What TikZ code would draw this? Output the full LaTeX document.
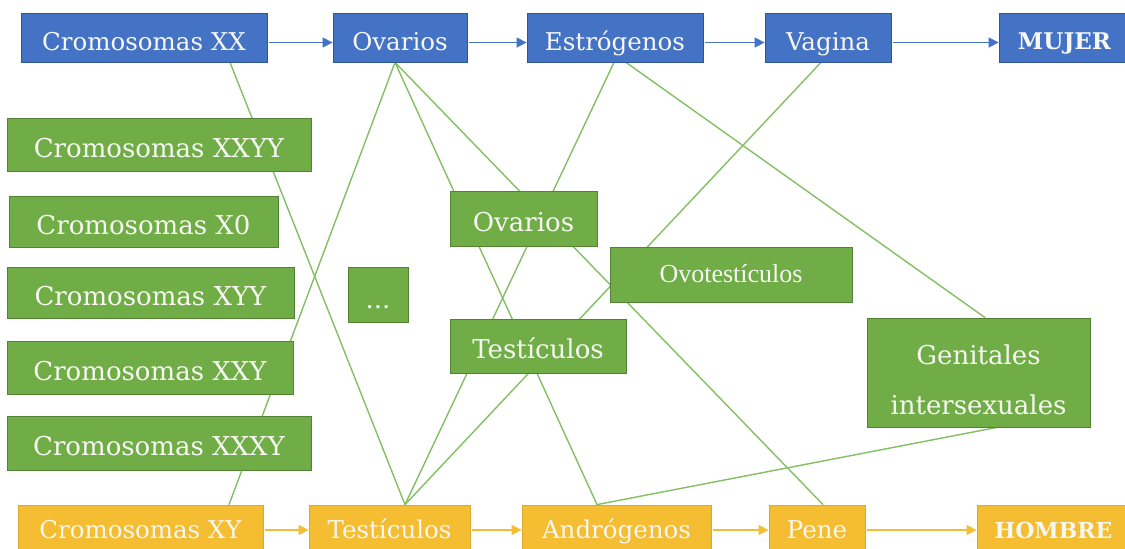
\documentclass[tikz,border=0pt]{standalone}
\usepackage{fontspec}
\setmainfont{DejaVu Serif}
\newfontfamily\timesf{Liberation Serif}
\usetikzlibrary{arrows.meta,backgrounds}
\definecolor{bluef}{HTML}{4472C4}
\definecolor{blued}{HTML}{2F5597}
\definecolor{greenf}{HTML}{70AD47}
\definecolor{greend}{HTML}{548235}
\definecolor{yellowf}{HTML}{F5BD31}
\definecolor{yellowd}{HTML}{DCA832}
\definecolor{linkg}{HTML}{84BF63}
\definecolor{txt}{HTML}{F7F7F2}
\begin{document}
\begin{tikzpicture}[x=1pt,y=-1pt,
  box/.style={draw, line width=0.8pt, rectangle, inner sep=0pt, text=txt, anchor=center},
  bbox/.style={box, fill=bluef, draw=blued, font=\fontsize{24.5}{29}\selectfont, text height=25.9pt, text depth=0pt},
  gbox/.style={box, fill=greenf, draw=greend, font=\fontsize{26}{31}\selectfont, text height=25pt, text depth=0pt},
  ybox/.style={box, fill=yellowf, draw=yellowd, font=\fontsize{24.5}{29}\selectfont, text height=17.9pt, text depth=0pt},
  sz/.style 2 args={minimum width=#1pt, minimum height=#2pt},
  link/.style={draw=linkg, line width=1.4pt},
  barrow/.style={draw=bluef, line width=1.5pt, -{Triangle[length=10pt,width=10pt]}, shorten <=2pt},
  yarrow/.style={draw=yellowf, line width=1.5pt, -{Triangle[length=10pt,width=10pt]}, shorten <=2pt}
]
\path[use as bounding box, clip] (0,0) rectangle (1125,549);
% top row
\node[bbox, sz={246}{49}] (xx) at (144,37.5) {Cromosomas XX};
\node[bbox, sz={134}{49}] (ovB) at (400,37.5) {Ovarios};
\node[bbox, sz={176}{49}] (est) at (615,37.5) {Estrógenos};
\node[bbox, sz={126}{49}] (vag) at (828,37.5) {Vagina};
\node[bbox, sz={131}{49}, font=\bfseries\fontsize{23}{27}\selectfont, text height=23.5pt] (muj) at (1064.5,37.5) {MUJER};
% left column
\node[gbox, sz={304}{53}] (xxyy) at (159,144.5) {Cromosomas XXYY};
\node[gbox, sz={269}{51}] (x0) at (143.5,221.5) {Cromosomas X0};
\node[gbox, sz={287}{51}] (xyy) at (150.5,292.5) {Cromosomas XYY};
\node[gbox, sz={286}{53}] (xxy) at (150,367.5) {Cromosomas XXY};
\node[gbox, sz={304}{54}] (xxxy) at (159,443) {Cromosomas XXXY};
\node[gbox, sz={60}{55}, text height=28pt] (dots) at (378,294.5) {...};
% middle
\node[gbox, sz={147}{55}] (ovG) at (523.5,218.5) {Ovarios};
\node[gbox, sz={242}{55}, font=\timesf\fontsize{26}{31}\selectfont, text height=15.2pt] (ovo) at (731,274.5) {Ovotestículos};
\node[gbox, sz={176}{54}] (teG) at (538,346) {Testículos};
\node[gbox, sz={223}{109}, align=center, font=\fontsize{26}{50}\selectfont, text height=, text depth=] (gen) at (978.5,372.5) {\rule{0pt}{34pt}Genitales\\intersexuales};
% bottom row
\node[ybox, sz={245}{50}] (xy) at (140.5,530) {Cromosomas XY};
\node[ybox, sz={161}{50}] (teY) at (389.5,530) {Testículos};
\node[ybox, sz={189}{50}] (andr) at (616.5,530) {Andrógenos};
\node[ybox, sz={96}{50}] (pene) at (817,530) {Pene};
\node[ybox, sz={153}{50}, font=\bfseries\fontsize{22}{26}\selectfont, text height=16pt] (hom) at (1053.5,530) {HOMBRE};
% links
\begin{pgfonlayer}{background}
\fill[white] (0,0) rectangle (1125,549);
\draw[link] ([xshift=86pt]xx.south) -- ([xshift=15.5pt]teY.north);
\draw[link] ([xshift=-5pt]ovB.south) -- ([xshift=88.5pt]xy.north);
\draw[link] ([xshift=-5pt]ovB.south) -- ([xshift=-19.5pt]andr.north);
\draw[link] ([xshift=-5pt]ovB.south) -- ([xshift=6pt]pene.north);
\draw[link] ([xshift=-1pt]est.south) -- ([xshift=15.5pt]teY.north);
\draw[link] ([xshift=11pt]est.south) -- ([xshift=6.5pt]gen.north);
\draw[link] ([xshift=-7pt]vag.south) -- ([xshift=15.5pt]teY.north);
\draw[link] ([xshift=18.5pt]gen.south) -- ([xshift=-19.5pt]andr.north);
\end{pgfonlayer}
% arrows
\draw[barrow] ([yshift=-5pt]xx.east) -- ([yshift=-5pt]ovB.west);
\draw[barrow] ([yshift=-5pt]ovB.east) -- ([yshift=-5pt]est.west);
\draw[barrow] ([yshift=-5pt]est.east) -- ([yshift=-5pt]vag.west);
\draw[barrow] ([yshift=-5pt]vag.east) -- ([yshift=-5pt]muj.west);
\draw[yarrow] (xy.east) -- (teY.west);
\draw[yarrow] (teY.east) -- (andr.west);
\draw[yarrow] (andr.east) -- (pene.west);
\draw[yarrow] (pene.east) -- (hom.west);
\end{tikzpicture}
\end{document}
